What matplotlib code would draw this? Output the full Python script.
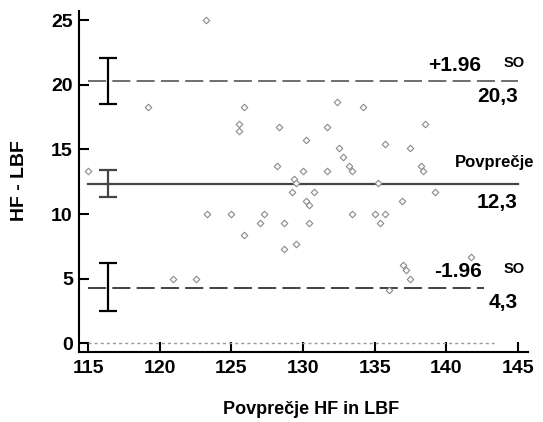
import matplotlib
matplotlib.use("Agg")
import matplotlib.pyplot as plt

plt.rcParams['font.family'] = ['Liberation Sans', 'DejaVu Sans']
plt.rcParams['font.weight'] = 'bold'
plt.rcParams['lines.scale_dashes'] = False

# mean of HF and LBF (x) and difference HF - LBF (y)
povprecje = [123.2, 119.2, 125.9, 125.5, 125.5, 115.0, 132.4, 134.2, 128.3, 131.7,
             138.5, 130.2, 132.5, 135.7, 137.5, 132.8, 133.2, 133.4, 128.2, 130.0,
             131.7, 138.2, 138.4, 129.4, 129.5, 135.2, 129.2, 130.8, 139.2, 130.2,
             130.4, 136.9, 123.3, 125.0, 125.9, 127.0, 127.3, 120.9, 122.5, 128.7,
             130.4, 128.7, 129.5, 133.4, 135.0, 135.7, 135.4, 137.0, 137.2, 137.5,
             136.0, 141.7]
razlika = [25.0, 18.3, 18.3, 17.0, 16.4, 13.3, 18.7, 18.3, 16.7, 16.7,
           17.0, 15.7, 15.1, 15.4, 15.1, 14.4, 13.7, 13.3, 13.7, 13.3,
           13.3, 13.7, 13.3, 12.7, 12.4, 12.4, 11.7, 11.7, 11.7, 11.0,
           10.7, 11.0, 10.0, 10.0, 8.4, 9.3, 10.0, 5.0, 5.0, 9.3,
           9.3, 7.3, 7.7, 10.0, 10.0, 10.0, 9.3, 6.05, 5.7, 5.0,
           4.1, 6.7]

mean_diff = 12.3
upper_loa = 20.3
lower_loa = 4.3
# confidence intervals (low, high) for upper LoA, mean, lower LoA
ci_upper = (18.5, 22.1)
ci_mean = (11.3, 13.4)
ci_lower = (2.5, 6.2)
ci_x = 116.4

fig = plt.figure(figsize=(5.43, 4.22), dpi=100)
ax = fig.add_axes([0.1455, 0.166, 0.8269, 0.808])

ax.scatter(povprecje, razlika, marker='D', s=11, facecolors='white',
           edgecolors='#8a8a8a', linewidths=0.8, zorder=3)

ax.plot([115, 145], [upper_loa, upper_loa], color='#555555', lw=1.2, dashes=(13, 4.5))
ax.plot([115, 145], [mean_diff, mean_diff], color='#444444', lw=1.6)
ax.plot([115, 142.6], [lower_loa, lower_loa], color='#222222', lw=1.2, dashes=(13, 4.5))
ax.plot([115, 143.3], [0, 0], color='#999999', lw=1.0, dashes=(2.2, 2.2))

def ci_bar(lo, hi, col):
    ax.errorbar([ci_x], [(lo + hi) / 2], yerr=[[(hi - lo) / 2], [(hi - lo) / 2]],
                fmt='none', ecolor=col, elinewidth=1.6, capsize=6.5, capthick=1.6, zorder=4)

ci_bar(*ci_upper, 'black')
ci_bar(*ci_mean, '#444444')
ci_bar(*ci_lower, 'black')

ax.set_xlim(114.37, 145.7)
ax.set_ylim(-0.66, 25.7)
ax.set_xticks([115, 120, 125, 130, 135, 140, 145])
ax.set_yticks([0, 5, 10, 15, 20, 25])
ax.tick_params(axis='both', direction='in', length=7, width=1.5, labelsize=14)
ax.tick_params(axis='x', pad=6)
ax.tick_params(axis='y', pad=4.5)
for s in ['top', 'right']:
    ax.spines[s].set_visible(False)
for s in ['left', 'bottom']:
    ax.spines[s].set_linewidth(1.5)

# annotations on the right
ax.text(142.45, 21.5, '+1.96', fontsize=15, ha='right', va='center')
ax.text(144.7, 21.7, 'SO', fontsize=10.5, ha='center', va='center')
ax.text(145.0, 19.05, '20,3', fontsize=15, ha='right', va='center')
ax.text(140.6, 13.95, 'Povprečje', fontsize=12, ha='left', va='center')
ax.text(145.0, 10.86, '12,3', fontsize=15, ha='right', va='center')
ax.text(142.45, 5.56, '-1.96', fontsize=15, ha='right', va='center')
ax.text(144.7, 5.75, 'SO', fontsize=10.5, ha='center', va='center')
ax.text(145.0, 3.14, '4,3', fontsize=15, ha='right', va='center')
for t in ax.texts:
    t.set_clip_on(False)

fig.text(19 / 543, 1 - 181 / 422, 'HF - LBF', rotation=90, fontsize=14,
         ha='center', va='center')
fig.text(311 / 543, 1 - 410 / 422, 'Povprečje HF in LBF', fontsize=13,
         ha='center', va='center')

fig.savefig('out.png', dpi=100)
